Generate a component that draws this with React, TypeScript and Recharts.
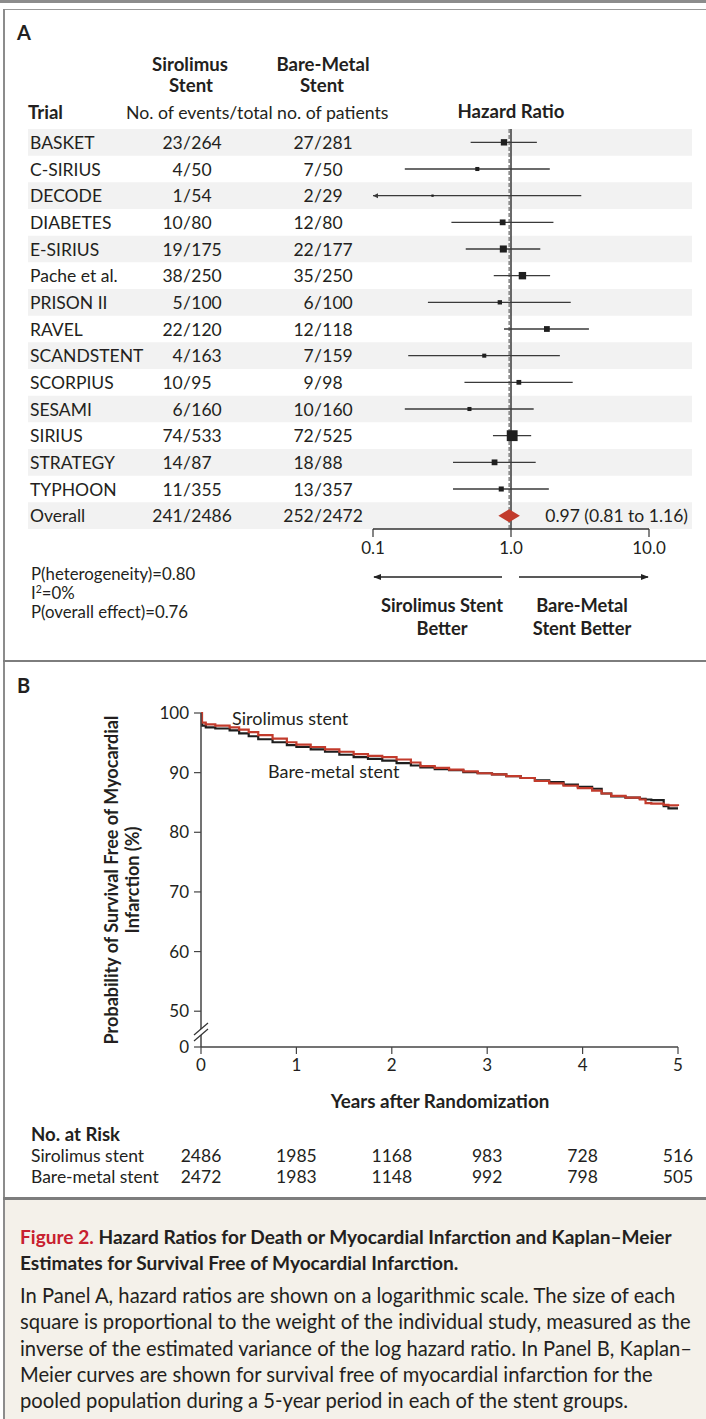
import React from "react";
import {
  ComposedChart,
  Scatter,
  XAxis,
  YAxis,
  ReferenceArea,
  ReferenceLine,
  Line,
} from "recharts";

// ---------------- shared style ----------------
const FONT = "Lato, 'Open Sans', Arial, sans-serif";
const INK = "#231f20";
const RED = "#c23b2c";
const STRIPE = "#f2f2f2";

// ---------------- Panel A data ----------------
const trials = [
  "BASKET", "C-SIRIUS", "DECODE", "DIABETES", "E-SIRIUS", "Pache et al.", "PRISON II",
  "RAVEL", "SCANDSTENT", "SCORPIUS", "SESAMI", "SIRIUS", "STRATEGY", "TYPHOON",
];
const sirEvents = [23, 4, 1, 10, 19, 38, 5, 22, 4, 10, 6, 74, 14, 11];
const sirTotal = [264, 50, 54, 80, 175, 250, 100, 120, 163, 95, 160, 533, 87, 355];
const bmsEvents = [27, 7, 2, 12, 22, 35, 6, 12, 7, 9, 10, 72, 18, 13];
const bmsTotal = [281, 50, 29, 80, 177, 250, 100, 118, 159, 98, 160, 525, 88, 357];
const hazardRatio = [0.89, 0.57, 0.27, 0.87, 0.88, 1.21, 0.83, 1.82, 0.64, 1.14, 0.5, 1.02, 0.76, 0.85];
const ciLower = [0.51, 0.17, 0.07, 0.37, 0.47, 0.75, 0.25, 0.89, 0.18, 0.46, 0.17, 0.74, 0.38, 0.38];
const ciUpper = [1.54, 1.91, 3.23, 2.03, 1.63, 1.92, 2.71, 3.67, 2.26, 2.8, 1.46, 1.4, 1.51, 1.88];
const studyWeight = [8.4, 3.4, 1.1, 6.9, 10.3, 11.3, 3.9, 6.9, 3.4, 4.7, 3.4, 24.3, 6.9, 5.3];

const overallName = "Overall";
const overallSir = [241, 2486];
const overallBms = [252, 2472];
const overallHR = 0.97;
const overallLower = 0.81;
const overallUpper = 1.16;

const hrTicks = [0.1, 1, 10];
const hrTickLabels = ["0.1", "1.0", "10.0"];

// ---------------- Panel B data ----------------
const kmTime = [
  0, 0.01, 0.05, 0.15, 0.3, 0.4, 0.5, 0.6, 0.75, 0.9, 1.0, 1.15, 1.3, 1.45, 1.6, 1.75, 1.9,
  2.05, 2.2, 2.3, 2.45, 2.6, 2.75, 2.9, 3.05, 3.2, 3.35, 3.5, 3.65, 3.8, 3.95, 4.1, 4.2, 4.3,
  4.45, 4.6, 4.66, 4.72, 4.85, 4.9, 5.0,
];
const sirSurvival = [
  100, 98.4, 98.1, 97.9, 97.6, 97.2, 96.8, 96.3, 95.7, 95.1, 94.7, 94.3, 93.9, 93.5, 93.1, 92.8,
  92.6, 92.2, 91.7, 91.1, 90.8, 90.5, 90.2, 89.9, 89.7, 89.4, 89.1, 88.6, 88.2, 87.8, 87.4, 87.0,
  86.5, 86.1, 85.8, 85.5, 84.9, 84.8, 84.6, 84.5, 84.4,
];
const bmsSurvival = [
  100, 97.9, 97.6, 97.4, 97.1, 96.6, 96.1, 95.6, 95.1, 94.6, 94.3, 93.9, 93.5, 93.0, 92.6, 92.3,
  92.0, 91.6, 91.2, 90.9, 90.6, 90.4, 90.1, 89.9, 89.7, 89.4, 89.1, 88.7, 88.4, 88.0, 87.6, 87.3,
  86.5, 86.0, 85.8, 85.6, 85.5, 85.4, 84.4, 84.0, 84.0,
];
const years = [0, 1, 2, 3, 4, 5];
const sirAtRisk = [2486, 1985, 1168, 983, 728, 516];
const bmsAtRisk = [2472, 1983, 1148, 992, 798, 505];
const kmYTicks = [44, 50, 60, 70, 80, 90, 100];
const kmYTickLabels = ["0", "50", "60", "70", "80", "90", "100"];

const captionTitle = [
  "Hazard Ratios for Death or Myocardial Infarction and Kaplan–Meier",
  "Estimates for Survival Free of Myocardial Infarction.",
];
const captionBody = [
  "In Panel A, hazard ratios are shown on a logarithmic scale. The size of each",
  "square is proportional to the weight of the individual study, measured as the",
  "inverse of the estimated variance of the log hazard ratio. In Panel B, Kaplan–",
  "Meier curves are shown for survival free of myocardial infarction for the",
  "pooled population during a 5-year period in each of the stent groups.",
];

// ---------------- layout constants ----------------
const W = 706;
const ROWS = trials.length + 1;
const DECADE_PX = 138;
const PLOT_A_LEFT = 28;
const PLOT_A_RIGHT = 692;
const AXIS_01_PX = 373;
// domain chosen so that 0.1 .. 10 occupies the axis span while stripes cover the full table width
const X_MIN = Math.pow(10, -1 - (AXIS_01_PX - PLOT_A_LEFT) / DECADE_PX);
const X_MAX = Math.pow(10, 1 + (PLOT_A_RIGHT - (AXIS_01_PX + 2 * DECADE_PX)) / DECADE_PX);
const SQUARE_K = 2.2;
const ROW_FONT = 17.5;

const forestPoints = trials.map((_, i) => ({ x: hazardRatio[i], y: i, w: studyWeight[i] }));
const rowTicks = Array.from({ length: ROWS }, (_, i) => i);
const rowLabelPoints = rowTicks.map((i) => ({ x: X_MIN, y: i, row: i }));

const sirData = kmTime.map((t, i) => ({ t, v: sirSurvival[i] }));
const bmsData = kmTime.map((t, i) => ({ t, v: bmsSurvival[i] }));

const fmt2 = (v: number) => v.toFixed(2);

function Fraction({ x, y, a, b }: { x: number; y: number; a: number; b: number }) {
  return (
    <g>
      <text x={x - 4.3} y={y} textAnchor="end">{a}</text>
      <text x={x} y={y} textAnchor="middle">/</text>
      <text x={x + 4.3} y={y} textAnchor="start">{b}</text>
    </g>
  );
}

function rowLabelShape(p: any) {
  const cy = p.cy as number;
  const i = p.payload.row as number;
  const isOverall = i === trials.length;
  const name = isOverall ? overallName : trials[i];
  const sa = isOverall ? overallSir[0] : sirEvents[i];
  const sb = isOverall ? overallSir[1] : sirTotal[i];
  const ba = isOverall ? overallBms[0] : bmsEvents[i];
  const bb = isOverall ? overallBms[1] : bmsTotal[i];
  const by = cy + 6.5;
  return (
    <g fontFamily={FONT} fontSize={ROW_FONT} fill={INK}>
      <text x={30} y={by}>{name}</text>
      <Fraction x={187} y={by} a={sa} b={sb} />
      <Fraction x={318} y={by} a={ba} b={bb} />
      {isOverall && (
        <text x={688} y={by} textAnchor="end">
          {`${fmt2(overallHR)} (${fmt2(overallLower)} to ${fmt2(overallUpper)})`}
        </text>
      )}
    </g>
  );
}

function ciShape(truncated: boolean) {
  return (p: any) => {
    const { x1, y1, x2, y2 } = p;
    return (
      <g>
        <line x1={x1} y1={y1} x2={x2} y2={y2} stroke="#3a3a3a" strokeWidth={1.3} />
        {truncated && (
          <polygon points={`${x1},${y1} ${x1 + 5},${y1 - 2.5} ${x1 + 5},${y1 + 2.5}`} fill="#3a3a3a" />
        )}
      </g>
    );
  };
}

function diamondShape(p: any) {
  const { x1, y1, x2 } = p;
  const mid = (x1 + x2) / 2;
  return (
    <polygon
      points={`${x1},${y1} ${mid},${y1 - 6.5} ${x2},${y1} ${mid},${y1 + 6.5}`}
      fill={RED}
    />
  );
}

function squareShape(p: any) {
  const s = SQUARE_K * Math.sqrt(p.payload.w);
  return <rect x={p.cx - s / 2} y={p.cy - s / 2} width={s} height={s} fill="#1f1f1f" />;
}

function ForestChart() {
  return (
    <ComposedChart
      width={W}
      height={660}
      margin={{ top: 129, right: W - PLOT_A_RIGHT, bottom: 101, left: PLOT_A_LEFT }}
      data={forestPoints}
    >
      <XAxis
        type="number"
        dataKey="x"
        scale="log"
        domain={[X_MIN, X_MAX]}
        allowDataOverflow
        ticks={hrTicks}
        interval={0}
        tickFormatter={(v: number) => hrTickLabels[hrTicks.indexOf(v)]}
        axisLine={false}
        tickLine={{ stroke: "#333", strokeWidth: 1.2 }}
        tickSize={8}
        tickMargin={5}
        height={30}
        tick={{ fill: INK, fontSize: 17, fontFamily: FONT }}
      />
      <YAxis type="number" dataKey="y" domain={[-0.5, ROWS - 0.5]} reversed hide />
      {rowTicks
        .filter((i) => i % 2 === 0)
        .map((i) => (
          <ReferenceArea
            key={`s${i}`}
            y1={i - 0.5}
            y2={i + 0.5}
            fill={STRIPE}
            fillOpacity={1}
            stroke="none"
            ifOverflow="visible"
          />
        ))}
      <ReferenceLine x={1} stroke="#444" strokeWidth={1.6} />
      <ReferenceLine x={overallHR} stroke="#8d8d8d" strokeWidth={1.6} strokeDasharray="4 2" />
      {trials.map((t, i) => {
        const lo = Math.max(ciLower[i], hrTicks[0]);
        return (
          <ReferenceLine
            key={t}
            segment={[{ x: lo, y: i }, { x: ciUpper[i], y: i }]}
            shape={ciShape(ciLower[i] < hrTicks[0])}
          />
        );
      })}
      <ReferenceLine
        segment={[{ x: overallLower, y: trials.length }, { x: overallUpper, y: trials.length }]}
        shape={diamondShape}
      />
      <ReferenceLine
        segment={[{ x: hrTicks[0], y: ROWS - 0.5 }, { x: hrTicks[2], y: ROWS - 0.5 }]}
        stroke="#333"
        strokeWidth={1.3}
      />
      <Scatter data={rowLabelPoints} shape={rowLabelShape} isAnimationActive={false} />
      <Scatter data={forestPoints} shape={squareShape} isAnimationActive={false} />
    </ComposedChart>
  );
}

function KMYTick(props: any) {
  const { x, y, payload } = props;
  const v = payload.value as number;
  const label = kmYTickLabels[kmYTicks.indexOf(v)];
  const ax = x + 12; // axis line position
  return (
    <g>
      <text x={x} y={y + 6} textAnchor="end" fontFamily={FONT} fontSize={17} fill={INK}>
        {label}
      </text>
      {v === kmYTicks[0] && (
        <g>
          <polygon
            points={`${ax - 7},${y - 12} ${ax + 7},${y - 24} ${ax + 7},${y - 18} ${ax - 7},${y - 6}`}
            fill="#fff"
          />
          <line x1={ax - 7} y1={y - 6} x2={ax + 7} y2={y - 18} stroke="#333" strokeWidth={1.2} />
          <line x1={ax - 7} y1={y - 12} x2={ax + 7} y2={y - 24} stroke="#333" strokeWidth={1.2} />
        </g>
      )}
    </g>
  );
}

function KMXTick(props: any) {
  const { x, y, payload } = props;
  const v = payload.value as number;
  const i = years.indexOf(v);
  return (
    <g fontFamily={FONT} fill={INK} textAnchor="middle">
      <text x={x} y={y + 17} fontSize={17}>{v}</text>
      <text x={x} y={y + 108} fontSize={17.5}>{sirAtRisk[i]}</text>
      <text x={x} y={y + 129} fontSize={17.5}>{bmsAtRisk[i]}</text>
    </g>
  );
}

function KMChart() {
  return (
    <ComposedChart width={W} height={538} margin={{ top: 53, right: 28, bottom: 91, left: 141 }}>
      <XAxis
        type="number"
        dataKey="t"
        domain={[0, 5]}
        ticks={years}
        interval={0}
        axisLine={{ stroke: "#444", strokeWidth: 1.5 }}
        tickLine={{ stroke: "#444", strokeWidth: 1.2 }}
        tickSize={7}
        tickMargin={0}
        height={60}
        tick={<KMXTick />}
      />
      <YAxis
        type="number"
        domain={[kmYTicks[0], 100]}
        ticks={kmYTicks}
        interval={0}
        width={60}
        axisLine={{ stroke: "#444", strokeWidth: 1.5 }}
        tickLine={{ stroke: "#444", strokeWidth: 1.2 }}
        tickSize={7}
        tickMargin={5}
        tick={<KMYTick />}
      />
      <Line
        data={bmsData}
        dataKey="v"
        type="stepAfter"
        stroke="#1e1e1e"
        strokeWidth={2.2}
        dot={false}
        isAnimationActive={false}
      />
      <Line
        data={sirData}
        dataKey="v"
        type="stepAfter"
        stroke={RED}
        strokeWidth={2.2}
        dot={false}
        isAnimationActive={false}
      />
    </ComposedChart>
  );
}

function Overlay() {
  const bold = { fontWeight: 700 } as const;
  return (
    <svg
      width={W}
      height={1200}
      style={{ position: "absolute", left: 0, top: 0, pointerEvents: "none" }}
      fontFamily={FONT}
      fill={INK}
    >
      <defs>
        <marker id="ah" viewBox="0 0 10 10" refX="9" refY="5" markerWidth="8" markerHeight="8" orient="auto-start-reverse" markerUnits="userSpaceOnUse">
          <path d="M0,1 L10,5 L0,9 z" fill="#222" />
        </marker>
      </defs>
      {/* Panel A header */}
      <text x={17} y={40} fontSize={20} style={bold}>A</text>
      <g fontSize={18.6} style={bold} textAnchor="middle">
        <text x={190} y={71}>Sirolimus</text>
        <text x={191} y={92}>Stent</text>
        <text x={323} y={71}>Bare-Metal</text>
        <text x={322} y={92}>Stent</text>
        <text x={511} y={118}>Hazard Ratio</text>
      </g>
      <text x={28} y={119} fontSize={18.6} style={bold}>Trial</text>
      <text x={126} y={119} fontSize={17.7}>No. of events/total no. of patients</text>

      {/* Panel A footer */}
      <g fontSize={16.8}>
        <text x={31} y={580}>P(heterogeneity)=0.80</text>
        <text x={31} y={599}>
          I<tspan fontSize={10.5} dy={-6}>2</tspan>
          <tspan dy={6}>=0%</tspan>
        </text>
        <text x={31} y={618}>P(overall effect)=0.76</text>
      </g>
      <line x1={502} y1={577} x2={374} y2={577} stroke="#222" strokeWidth={1.4} markerEnd="url(#ah)" />
      <line x1={519} y1={577} x2={648} y2={577} stroke="#222" strokeWidth={1.4} markerEnd="url(#ah)" />
      <g fontSize={18.3} style={bold} textAnchor="middle">
        <text x={442} y={612}>Sirolimus Stent</text>
        <text x={442} y={635}>Better</text>
        <text x={582} y={612}>Bare-Metal</text>
        <text x={582} y={635}>Stent Better</text>
      </g>

      {/* Panel B */}
      <text x={17} y={693} fontSize={20} style={bold}>B</text>
      <g fontSize={18} style={bold} textAnchor="middle">
        <text transform="translate(118,880) rotate(-90)">Probability of Survival Free of Myocardial</text>
        <text transform="translate(139,880) rotate(-90)">Infarction (%)</text>
      </g>
      <text x={232} y={725} fontSize={18}>Sirolimus stent</text>
      <text x={268} y={778} fontSize={18}>Bare-metal stent</text>
      <text x={440} y={1108} fontSize={18.8} style={bold} textAnchor="middle">Years after Randomization</text>
      <text x={31} y={1141} fontSize={18.6} style={bold}>No. at Risk</text>
      <text x={31} y={1162} fontSize={17.5}>Sirolimus stent</text>
      <text x={31} y={1183} fontSize={17.5}>Bare-metal stent</text>
    </svg>
  );
}

function Caption() {
  return (
    <div
      style={{
        position: "absolute",
        left: 4.5,
        top: 1200,
        width: W - 4.5,
        height: 219,
        background: "#f4f1ea",
        fontFamily: FONT,
        color: INK,
      }}
    >
      <div style={{ position: "absolute", left: 15.5, top: 24, fontSize: 19.1, fontWeight: 700, lineHeight: "26px", whiteSpace: "nowrap" }}>
        <div>
          <span style={{ color: "#c8202f" }}>Figure 2.</span> {captionTitle[0]}
        </div>
        <div>{captionTitle[1]}</div>
      </div>
      <div style={{ position: "absolute", left: 15.5, top: 82, fontSize: 20.2, lineHeight: "26.3px", whiteSpace: "nowrap" }}>
        {captionBody.map((l, i) => (
          <div key={i}>{l}</div>
        ))}
      </div>
    </div>
  );
}

export default function App() {
  return (
    <div style={{ position: "absolute", left: 0, top: 0, width: W, height: 1419, background: "#fff", overflow: "hidden" }}>
      {/* frame */}
      <div style={{ position: "absolute", left: 0, top: 0, width: W, height: 3, background: "#8c8c8c" }} />
      <div style={{ position: "absolute", left: 3, top: 9, width: W - 3, height: 1, background: "#9a9a9a" }} />
      <div style={{ position: "absolute", left: 3, top: 9, width: 1.5, height: 1410, background: "#8c8c8c" }} />
      <div style={{ position: "absolute", left: 0, top: 0 }}>
        <ForestChart />
      </div>
      <div style={{ position: "absolute", left: 0, top: 660 }}>
        <KMChart />
      </div>
      <Overlay />
      <div style={{ position: "absolute", left: 3, top: 659.5, width: W - 3, height: 2.5, background: "#7d7d7d" }} />
      <Caption />
      <div style={{ position: "absolute", left: 3, top: 1197, width: W - 3, height: 3, background: "#7d7d7d" }} />
    </div>
  );
}
